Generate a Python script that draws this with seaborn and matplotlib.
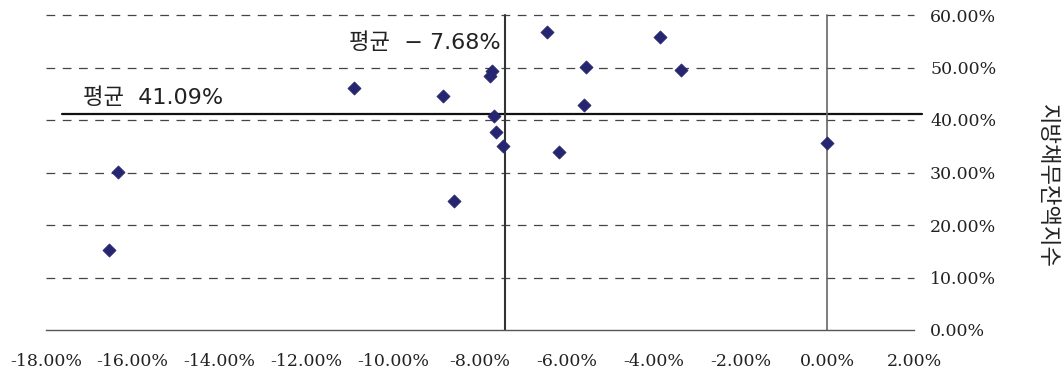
import matplotlib
matplotlib.use("Agg")
import matplotlib.pyplot as plt
import seaborn as sns
import pandas as pd

# values (percent)
x_vals = [-16.54, -16.33, -10.91, -8.84, -8.60, -7.73, -7.78, -7.67, -7.63,
          -7.46, -6.46, -5.56, -5.61, -6.18, -3.86, -3.36, 0.00]
y_vals = [15.18, 30.10, 46.04, 44.57, 24.63, 49.39, 48.38, 40.82, 37.66,
          35.10, 56.70, 50.10, 42.86, 33.90, 55.87, 49.52, 35.56]

mean_x = -7.68
mean_y = 41.09
vline_x = -7.42   # where the vertical mean line is actually drawn in the picture

x_ticks = [-18, -16, -14, -12, -10, -8, -6, -4, -2, 0, 2]
y_ticks = [0, 10, 20, 30, 40, 50, 60]
y_title = "지방채무잔액지수"

df = pd.DataFrame({"x": x_vals, "y": y_vals})

sns.set_style("white")
plt.rcParams["font.family"] = ["DejaVu Serif"]
kr = ["DejaVu Sans", "Noto Sans CJK KR"]

fig = plt.figure(figsize=(10.62, 3.71), dpi=100)
ax = fig.add_axes([45.8 / 1062, 1 - 330 / 371, (914.1 - 45.8) / 1062, (330 - 15) / 371])

# dashed grid
for yv in y_ticks[1:]:
    ax.plot([-18, 2], [yv, yv], color="#444444", lw=0.9, ls=(0, (7, 6)), zorder=1, clip_on=False)

# mean lines
ax.plot([-17.63, 2.18], [mean_y, mean_y], color="#111111", lw=1.6, zorder=2, clip_on=False)
ax.plot([vline_x, vline_x], [0, 60], color="#333333", lw=1.5, zorder=2, clip_on=False)
ax.plot([0, 0], [0, 60], color="#666666", lw=1.2, zorder=2, clip_on=False)

sns.scatterplot(data=df, x="x", y="y", marker="D", s=45, color="#262670",
                edgecolor="#262670", linewidth=0.5, ax=ax, zorder=3, clip_on=False)

ax.set_xlim(-18, 2)
ax.set_ylim(0, 60)
ax.set_xlabel("")
ax.set_ylabel("")

ax.set_xticks(x_ticks)
ax.set_xticklabels(["%.2f%%" % v for v in x_ticks], fontsize=12.5, color="#222222")
ax.yaxis.tick_right()
ax.set_yticks(y_ticks)
ax.set_yticklabels(["%.2f%%" % v for v in y_ticks], fontsize=12.5, color="#222222")
ax.tick_params(axis="x", direction="in", length=4, width=1, color="#555555", pad=16.5)
ax.tick_params(axis="y", length=0, pad=11.5)

for s in ["top", "left", "right"]:
    ax.spines[s].set_visible(False)
ax.spines["bottom"].set_color("#555555")
ax.spines["bottom"].set_linewidth(1)

ax.text(-11.01, 54.7, "평균  − 7.68%", family=kr, fontsize=16, va="center", ha="left", color="#222222")
ax.text(-17.14, 44.3, "평균  41.09%", family=kr, fontsize=16, va="center", ha="left", color="#222222")

fig.text(1047 / 1062, 1 - 186 / 371, y_title, family=["Noto Sans CJK KR", "DejaVu Sans"],
         fontsize=16, rotation=-90, ha="center", va="center", color="#222222")

fig.savefig("out.png", dpi=100)
